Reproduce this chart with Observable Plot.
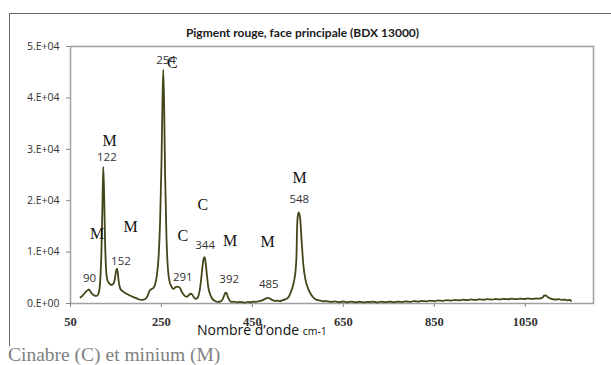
<!DOCTYPE html>
<html><head><meta charset="utf-8">
<script src="https://cdn.jsdelivr.net/npm/d3@7"></script>
<script src="https://cdn.jsdelivr.net/npm/@observablehq/plot@0.6"></script>
<style>
body{margin:0;background:#fff;}
#wrap{position:relative;width:611px;height:365px;overflow:hidden;background:#fff;}
#border{position:absolute;left:9px;top:13px;width:610px;height:332px;border-left:1px solid #666;border-top:1px solid #666;}
#title{position:absolute;left:-3px;width:611px;top:25px;text-align:center;font-family:Lato,sans-serif;font-weight:700;font-size:12px;color:#1a1a1a;}
#xlabel{position:absolute;left:197px;top:320px;font-family:"Open Sans",sans-serif;font-size:14px;color:#111;white-space:nowrap;}
#xlabel span{font-size:10.5px;}
#caption{position:absolute;left:8px;top:344px;font-family:"Liberation Serif",serif;font-size:19.5px;color:#808080;white-space:nowrap;}
#chart{position:absolute;left:0;top:0;}
</style>
</head><body>
<div id="wrap">
  <div id="border"></div>
  <div id="chart"></div>
  <div id="title">Pigment rouge, face principale (BDX 13000)</div>
  <div id="xlabel">Nombre d’onde <span>cm-1</span></div>
  <div id="caption">Cinabre (C) et minium (M)</div>
</div>
<script>
// Spectrum (wavenumber cm-1, intensity)
const wavenumbers = [72,76,80,84,88,90,93,96,100,104,108,111,114,116,118,120,122,124,126,128,130,133,136,140,144,147,150,152,154,156,159,163,168,175,182,190,198,205,210,215,220,224,228,232,236,240,244,247,250,252,254,256,258,261,264,268,272,276,280,284,288,291,295,300,305,310,314,318,322,326,330,334,337,340,343,345,347,350,353,357,362,368,374,380,385,388,391,393,396,400,405,410,416,422,428,434,440,446,452,458,464,470,474,478,482,485,488,492,496,500,505,510,516,522,528,532,536,539,542,545,547,548,550,552,555,558,562,567,573,580,586,592,600,606,612,618,624,630,636,642,648,654,660,666,672,678,684,690,696,702,708,714,720,726,732,738,744,750,756,762,768,774,780,786,792,798,804,810,816,822,828,834,840,846,852,858,864,870,876,882,888,894,900,906,912,918,924,930,936,942,948,954,960,966,972,978,984,990,996,1002,1008,1014,1020,1026,1032,1038,1044,1050,1056,1062,1068,1074,1078,1082,1086,1089,1092,1096,1100,1106,1112,1118,1124,1130,1136,1142,1148,1151];
const intensities = [1200,1500,1900,2300,2600,2750,2500,2000,1700,1500,1500,1800,3000,5500,10000,18000,26600,21000,12000,7000,5000,4200,3800,3600,3800,4500,6200,6800,6000,4300,3000,2500,2200,1800,1500,1200,900,700,750,900,1600,2500,2800,3000,3700,5500,9500,16000,27000,38000,45500,38000,25000,13000,7000,4200,3300,2800,3100,3300,3200,3000,2200,1600,1300,1600,1900,1700,1100,900,1200,2500,4500,7000,8800,9000,8000,5500,3200,1800,900,500,300,400,900,1600,2100,2000,1300,600,300,380,220,330,250,180,320,240,380,300,450,560,700,900,1050,1100,980,750,620,500,560,480,620,800,1100,1700,2600,3400,4600,6500,9500,14000,17200,17700,16500,12500,7500,4500,2800,1600,1000,700,560,420,450,380,300,420,330,260,390,310,240,350,300,220,340,280,210,330,270,380,290,230,350,300,260,380,310,250,360,330,280,420,360,330,460,420,380,520,450,420,560,500,470,600,540,520,660,590,560,700,640,610,740,680,650,790,720,690,820,760,730,860,790,770,880,820,800,910,840,830,940,870,860,960,890,880,980,910,900,1000,930,980,1050,1250,1600,1550,1200,950,820,780,850,700,760,620,680,520,450,250];

// Axis ticks
const xTicks = [50,250,450,650,850,1050];
const yTicks = [0,10000,20000,30000,40000,50000];
const yTickLabels = ["0.E+00","1.E+04","2.E+04","3.E+04","4.E+04","5.E+04"];

// Peak number labels
const peakNums = ["90","122","152","254","291","344","392","485","548"];
const peakNumX = [92,130,161,260,297,346,399,486,553];
const peakNumY = [4860,28460,8230,47280,5000,11280,4610,3830,20180];

// Band letters (C = cinabre, M = minium)
const bandLetters = ["M","M","M","C","C","C","M","M","M"];
const bandX = [108.5,136,182,274,297,341,401,483.5,554];
const bandY = [13560,31580,14980,46750,13230,19200,12260,12060,24380];

const spectrum = wavenumbers.map((w,i)=>({w, v:intensities[i]}));
const nums = peakNums.map((t,i)=>({t, x:peakNumX[i], y:peakNumY[i]}));
const bands = bandLetters.map((t,i)=>({t, x:bandX[i], y:bandY[i]}));

const chart = Plot.plot({
  width: 611, height: 365,
  marginLeft: 70, marginRight: 18, marginTop: 46, marginBottom: 62,
  style: {background: "transparent", fontFamily: "Liberation Serif", fontSize: "12px", color: "#333"},
  x: {domain: [50, 1200]},
  y: {domain: [0, 50000]},
  marks: [
    Plot.frame({stroke: "#a0a0a0", strokeWidth: 1.5}),
    Plot.axisY({ticks: yTicks, tickFormat: d => yTickLabels[yTicks.indexOf(d)], tickSize: 4, tickPadding: 7, label: null, fontFamily: "Open Sans", fontSize: 10.5, stroke: "#888", fill: "#333"}),
    Plot.axisX({ticks: xTicks, tickFormat: d => String(d), tickSize: 4, tickPadding: 10, label: null, fontFamily: "Liberation Serif", fontSize: 12.5, fontWeight: "bold", stroke: "#888", fill: "#333"}),
    Plot.line(spectrum, {x: "w", y: "v", stroke: "#45451a", strokeWidth: 1.8, curve: "monotone-x"}),
    Plot.text(nums, {x: "x", y: "y", text: "t", fontFamily: "Open Sans", fontSize: 11.5, fill: "#333"}),
    Plot.text(bands, {x: "x", y: "y", text: "t", fontFamily: "Liberation Serif", fontSize: 16, fill: "#111"})
  ]
});
document.getElementById("chart").appendChild(chart);
</script>
</body></html>
